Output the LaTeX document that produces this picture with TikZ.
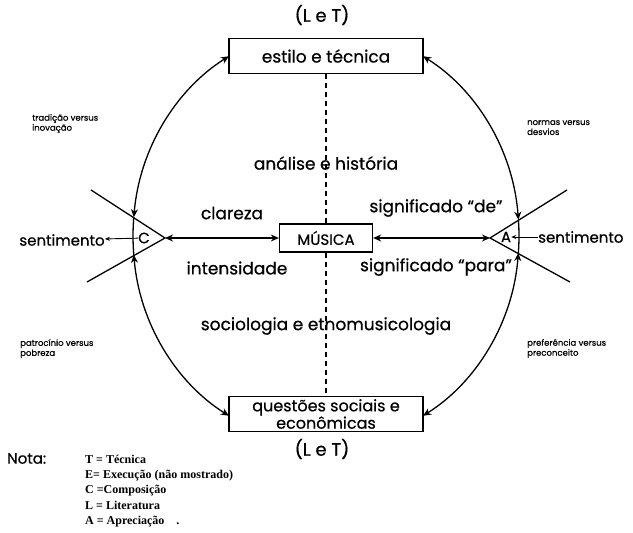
\documentclass[tikz,border=0pt]{standalone}
\usepackage{fontspec}
\setmainfont{Poppins}[FakeBold=0.6]
\newfontfamily\notafont{Liberation Serif}
\usetikzlibrary{arrows.meta}

\begin{document}
\begin{tikzpicture}[
  x=1pt, y=-1pt,
  every node/.style={font=\fontsize{17}{19}\selectfont, inner sep=0pt},
  box/.style={rectangle, draw, line width=1.3pt, minimum width=194pt, minimum height=35pt, align=center},
  small_label/.style={font=\fontsize{8.5}{10}\selectfont, align=left, anchor=north west},
  arrow/.style={{Stealth[length=8pt,width=7pt]}-{Stealth[length=8pt,width=7pt]}, line width=1.3pt},
  tip_arrow/.style={-{Stealth[length=5pt,width=4pt]}, line width=0.9pt},
  vline/.style={line width=1.3pt},
  divider/.style={line width=1.4pt, dash pattern=on 5pt off 4pt}
]
\useasboundingbox (0,0) rectangle (633,533);

% Boxes
\node[font=\fontsize{18}{20}\selectfont] (lt_top) at (322,15) {(L e T)};
\node[box] (estilo) at (326,56) {estilo e técnica};
\node[box, font=\fontsize{15}{17}\selectfont, minimum width=93pt, minimum height=28pt] (musica) at (326,238) {MÚSICA};
\node[box, font=\fontsize{16}{15}\selectfont] (questoes) at (326,414) {questões sociais e\\econômicas};
\node[font=\fontsize{18}{20}\selectfont] (lt_bot) at (322,449) {(L e T)};

% Dashed axis
\draw[divider] (estilo) -- (musica);
\draw[divider] (musica) -- (questoes);

% The two wedges
\coordinate (vC) at (165,238);
\coordinate (cTop) at (91,190);
\coordinate (cBot) at (87,282);
\coordinate (vA) at (490,238);
\coordinate (aTop) at (567,190);
\coordinate (aBot) at (570,282);
\draw[vline] (cTop) -- (vC) -- (cBot);
\draw[vline] (aTop) -- (vA) -- (aBot);

% Arrows from MUSICA
\draw[arrow] (musica) -- (vC);
\draw[arrow] (musica) -- (vA);

% Circle
\coordinate (ctr) at (326,236);
\coordinate (tl) at ([shift={(239.8:193 and 208)}]ctr);
\coordinate (cl1) at ([shift={(185.2:193 and 208)}]ctr);
\coordinate (cl2) at ([shift={(174.8:193 and 208)}]ctr);
\coordinate (bl) at ([shift={(120.2:193 and 208)}]ctr);
\coordinate (tr) at ([shift={(-59.8:193 and 208)}]ctr);
\coordinate (ar1) at ([shift={(-4.5:193 and 208)}]ctr);
\coordinate (ar2) at ([shift={(4.7:193 and 208)}]ctr);
\coordinate (br) at ([shift={(59.8:193 and 208)}]ctr);
\draw[arrow] (tl) arc[start angle=239.8, end angle=185.2, x radius=193, y radius=208];
\draw[vline] (cl1) arc[start angle=185.2, end angle=174.8, x radius=193, y radius=208];
\draw[arrow] (cl2) arc[start angle=174.8, end angle=120.2, x radius=193, y radius=208];
\draw[arrow] (tr) arc[start angle=-59.8, end angle=-4.5, x radius=193, y radius=208];
\draw[vline] (ar1) arc[start angle=-4.5, end angle=4.7, x radius=193, y radius=208];
\draw[arrow] (ar2) arc[start angle=4.7, end angle=59.8, x radius=193, y radius=208];

% Inner labels
\node (analise) at (326,163) {análise e história};
\node (socio) at (326,326) {sociologia e etnomusicologia};
\node (clareza) at (232,213) {clareza};
\node (intens) at (237,268) {intensidade};
\node (sigde) at (436,208) {significado “de”};
\node (sigpara) at (436,267) {significado “para”};

% Sentimento on both sides
\node[font=\fontsize{15}{17}\selectfont] (sentC) at (62,240) {sentimento};
\node[font=\fontsize{15}{17}\selectfont] (cletter) at (144,238) {C};
\node[font=\fontsize{15}{17}\selectfont] (aletter) at (506,237) {A};
\node[font=\fontsize{15}{17}\selectfont, anchor=west] (sentA) at (538,237) {sentimento};
\draw[tip_arrow] (cletter) -- (sentC);
\draw[tip_arrow] (sentA) -- (aletter);

% Arc labels
\node[small_label] (trad) at (32,114) {tradição versus\\inovação};
\node[small_label] (normas) at (527,120) {normas versus\\desvios};
\node[small_label] (patro) at (20,339) {patrocínio versus\\pobreza};
\node[small_label] (pref) at (527,339) {preferência versus\\preconceito};

% Nota
\node[anchor=north west, font=\fontsize{15}{17}\selectfont] (nota) at (7,453) {Nota:};
\node[anchor=north west, align=left, font=\notafont\bfseries\fontsize{12}{15.2}\selectfont] (legenda) at (85,455)
  {T = Técnica\\E= Execução (não mostrado)\\C =Composição\\L = Literatura\\A = Apreciação\quad .};

\end{tikzpicture}
\end{document}
